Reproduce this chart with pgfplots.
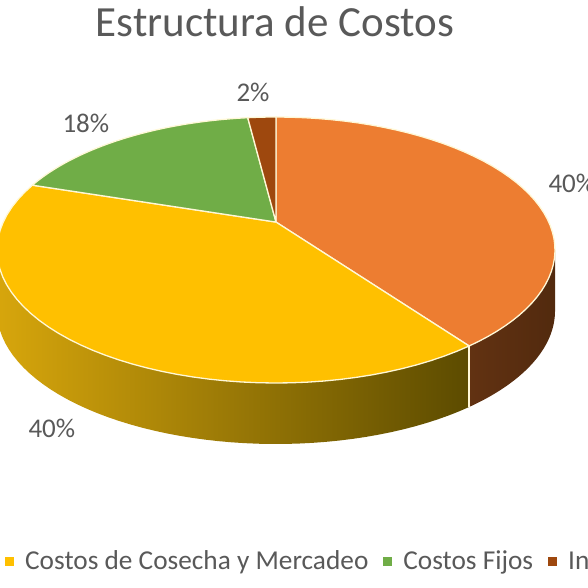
\documentclass[border=0pt]{standalone}
\usepackage{pgfplots}
\pgfplotsset{compat=1.18}
\usepackage{fontspec}
\setmainfont{Carlito}
\definecolor{cOrange}{HTML}{ED7D31}
\definecolor{cYellow}{HTML}{FFC000}
\definecolor{cGreen}{HTML}{70AD47}
\definecolor{cBrown}{HTML}{9E480E}
\definecolor{rim}{RGB}{255,248,215}
\definecolor{txt}{HTML}{595959}
\definecolor{sOL}{RGB}{98,50,18}
\definecolor{sOR}{RGB}{82,42,14}
\definecolor{sYL}{RGB}{215,166,12}
\definecolor{sYM}{RGB}{160,124,3}
\definecolor{sYR}{RGB}{92,75,0}
\definecolor{sGL}{RGB}{70,110,45}
\definecolor{sGR}{RGB}{50,80,30}
\definecolor{sBL}{RGB}{100,45,10}
\definecolor{sBR}{RGB}{80,36,8}
\def\sidecOrange{left color=sOL, right color=sOR}
\def\sidecYellow{left color=sYL, middle color=sYM, right color=sYR}
\def\sidecGreen{left color=sGL, right color=sGR}
\def\sidecBrown{left color=sBL, right color=sBR}
\def\cx{276}\def\cy{250}\def\rx{279}\def\ry{133}\def\pshift{0.21}\def\depth{61}
% parametric ellipse angle of the pie angle #1 (perspective view)
\newcommand\tparam[2]{%
  \pgfmathsetmacro\tmpden{1+\pshift*sin(#1)}%
  \pgfmathsetmacro\tmpx{cos(#1)*sqrt(1-\pshift*\pshift)/\tmpden}%
  \pgfmathsetmacro\tmpy{(sin(#1)+\pshift)/\tmpden}%
  \pgfmathsetmacro\tmpt{atan2(\tmpy,\tmpx)}%
  \pgfmathsetmacro#2{\tmpt+360*round((#1-\tmpt)/360)}%
}
\newcommand\arcpts[3]{%
  \foreach \k in {0,...,48}{%
    \pgfmathsetmacro\tq{#1+(#2-#1)*\k/48}%
    \pgfmathsetmacro\px{\cx+\rx*cos(\tq)}%
    \pgfmathsetmacro\py{\cy-\ry*sin(\tq)+#3}%
    \xdef\plist{\plist(\px,\py)}%
  }%
}
\begin{document}
\begin{tikzpicture}
\useasboundingbox (0,0) rectangle (588pt,588pt);
\clip (0,0) rectangle (588pt,588pt);
\pgfmathsetmacro\apy{\cy-\ry*\pshift}
\gdef\thetacur{90}
\gdef\topcmds{}
\gdef\sidecmds{}
\gdef\divcmds{}
% shares (%) of the cost structure, clockwise from 12 o'clock
\foreach \v/\c in {40/cOrange, 40/cYellow, 18/cGreen, 2/cBrown}{%
  \pgfmathsetmacro\thA{\thetacur}%
  \pgfmathsetmacro\thB{\thetacur-3.6*\v}%
  \xdef\thetacur{\thB}%
  \tparam{\thA}\tA
  \tparam{\thB}\tB
  \xdef\plist{(\cx,\apy)}%
  \arcpts{\tA}{\tB}{0}%
  \xdef\plist{\plist(\cx,\apy)}%
  \xdef\topcmds{\unexpanded\expandafter{\topcmds}\noexpand\addplot[fill=\c, draw=rim, line width=1.3pt, line join=round] coordinates {\plist};}%
  \pgfmathsetmacro\hi{min(\tA,0)}%
  \pgfmathsetmacro\lo{max(\tB,-180)}%
  \pgfmathtruncatemacro\vis{\hi>\lo}%
  \ifnum\vis=1
    \xdef\plist{}%
    \arcpts{\hi}{\lo}{0}%
    \arcpts{\lo}{\hi}{\depth}%
    \xdef\sidecmds{\unexpanded\expandafter{\sidecmds}\noexpand\addplot[forget plot, draw=none, \csname side\c\endcsname] coordinates {\plist};}%
  \fi
  \pgfmathtruncatemacro\dv{and(\tB<0,\tB>-180)}%
  \ifnum\dv=1
    \pgfmathsetmacro\px{\cx+\rx*cos(\tB)}%
    \pgfmathsetmacro\py{\cy-\ry*sin(\tB)}%
    \pgfmathsetmacro\pyb{\py+\depth}%
    \xdef\divcmds{\unexpanded\expandafter{\divcmds}\noexpand\addplot[forget plot, draw=rim, line width=1.3pt] coordinates {(\px,\py)(\px,\pyb)};}%
  \fi
}
\begin{axis}[
  hide axis, scale only axis, width=588pt, height=588pt,
  xmin=0, xmax=588, ymin=0, ymax=588, y dir=reverse, clip=true,
  legend columns=-1,
  legend image code/.code={\fill[#1, draw=none] (0pt,-4.5pt) rectangle (9pt,4.5pt);},
  legend style={draw=none, fill=none, at={(axis cs:2,561)}, anchor=west,
    font=\fontsize{27.3}{32}\selectfont\color{txt},
    nodes={inner sep=0pt},
    /tikz/every odd column/.append style={column sep=11pt},
    /tikz/every even column/.append style={column sep=15pt}},
]
\sidecmds
\divcmds
\topcmds
\legend{,Costos de Cosecha y Mercadeo, Costos Fijos, Insumos}
\node[anchor=base, font=\fontsize{43}{50}\selectfont, text=txt] at (axis cs:275,37) {Estructura de Costos};
\node[anchor=base west, font=\fontsize{27}{32}\selectfont, text=txt] at (axis cs:545,192) {40\%};
\node[anchor=base west, font=\fontsize{27}{32}\selectfont, text=txt] at (axis cs:233,102) {2\%};
\node[anchor=base west, font=\fontsize{27}{32}\selectfont, text=txt] at (axis cs:59,133) {18\%};
\node[anchor=base west, font=\fontsize{27}{32}\selectfont, text=txt] at (axis cs:25,437) {40\%};
\end{axis}
\end{tikzpicture}
\end{document}
